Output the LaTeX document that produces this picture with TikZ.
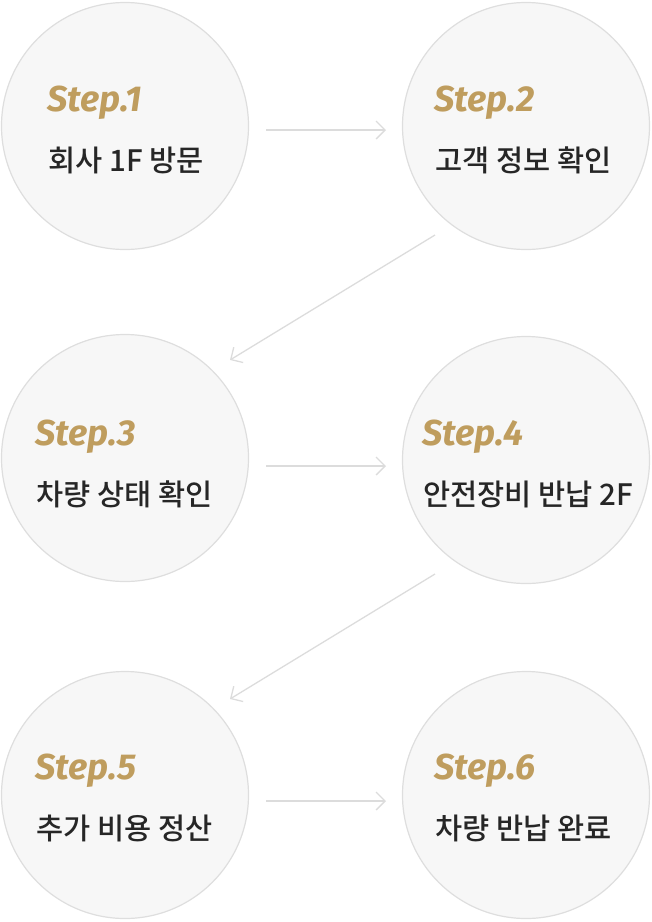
\documentclass[tikz,border=0pt]{standalone}
\usepackage{fontspec}
\setmainfont{Fira Sans}
\newfontfamily\kr{Noto Sans CJK KR Medium}
\usetikzlibrary{arrows.meta}
\definecolor{gold}{HTML}{BF9D5E}
\definecolor{ringgray}{HTML}{DEDEDE}
\definecolor{fillgray}{HTML}{F7F7F7}
\definecolor{arrowgray}{HTML}{DCDCDC}
\tikzset{stepcircle/.style={circle,draw=ringgray,fill=fillgray,line width=1.2pt,minimum size=247pt,inner sep=0pt},
	steplabel/.style={anchor=west,text=gold,font=\fontsize{36}{38}\selectfont\bfseries\itshape},
	steptext/.style={anchor=west,font=\kr\fontsize{29.5}{31}\selectfont,text=black!85},
	flow/.style={draw=arrowgray,line width=1.3pt,-{Straight Barb[length=9pt,width=18pt]}}}
\begin{document}
\begin{tikzpicture}[x=1pt,y=-1pt]
	\useasboundingbox (0,0) rectangle (652,922);
	\node[stepcircle] (c1) at (125,126){};
	\node[stepcircle] (c2) at (526,126){};
	\node[stepcircle] (c3) at (125,458){};
	\node[stepcircle] (c4) at (526,460){};
	\node[stepcircle] (c5) at (125,795){};
	\node[stepcircle] (c6) at (526,795){};
	\node[steplabel] (s1) at (44,103){Step.1};
	\node[steptext] (t1) at (45,160){회사 1F 방문};
	\node[steplabel] (s2) at (431,103){Step.2};
	\node[steptext] (t2) at (432,160){고객 정보 확인};
	\node[steplabel] (s3) at (32,437){Step.3};
	\node[steptext] (t3) at (33,494){차량 상태 확인};
	\node[steplabel] (s4) at (419,437){Step.4};
	\node[steptext] (t4) at (420,494){안전장비 반납 2F};
	\node[steplabel] (s5) at (32,771){Step.5};
	\node[steptext] (t5) at (33,828){추가 비용 정산};
	\node[steplabel] (s6) at (431,771){Step.6};
	\node[steptext] (t6) at (432,828){차량 반납 완료};
	\coordinate (d1a) at (435,235);
	\coordinate (d1b) at (230,360);
	\coordinate (d2a) at (435,574);
	\coordinate (d2b) at (230,699);
	\draw[flow] (266,130) -- (386,130);
	\draw[flow] (266,466) -- (386,466);
	\draw[flow] (266,801) -- (386,801);
	\draw[flow] (d1a) -- (d1b);
	\draw[flow] (d2a) -- (d2b);
\end{tikzpicture}
\end{document}
